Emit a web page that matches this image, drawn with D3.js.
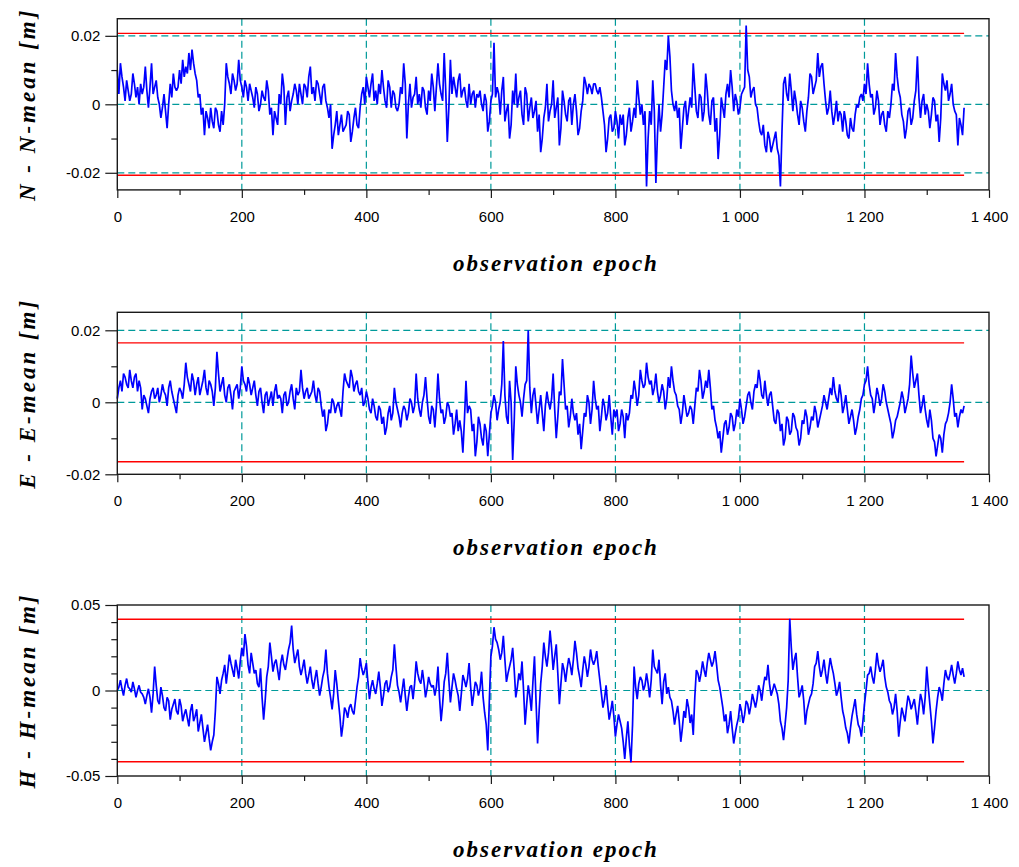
<!DOCTYPE html>
<html>
<head>
<meta charset="utf-8">
<script src="https://cdn.jsdelivr.net/npm/d3@7"></script>
<style>
  body { margin: 0; background: #fff; }
  svg { display: block; }
</style>
</head>
<body>
<svg id="chart" width="1019" height="867"></svg>
<script>
// residuals in millimetres: main samples every 5 epochs,
// "mid" samples read halfway between them (epoch + 2.5)
const epochStep = 5;

const nValues = [
  10,12,5,7,1,9,2,0,3,11,
  -1,12,5,2,-4,3,-7,6,9,4,
  10,13,11,15,16,9,2,-3,-9,-4,
  -1,-7,-2,-8,-6,12,6,9,4,13,
  5,7,1,4,-1,3,0,2,7,-3,
  -9,-4,3,9,-6,4,1,6,0,3,
  6,2,11,5,7,3,5,1,-4,-13,
  -6,-9,-3,-7,-2,-11,-4,-6,-1,5,
  8,2,9,4,6,10,1,7,-1,3,
  -2,5,12,-10,6,2,8,3,5,-1,
  4,9,-2,12,3,15,-11,13,8,2,
  9,4,1,6,3,-1,2,0,3,-8,
  1,18,5,-3,8,-2,-10,4,9,2,
  -3,5,-5,2,-2,-8,-14,-4,6,-2,
  7,-1,-12,4,-3,1,-6,3,-9,-2,
  8,3,5,6,4,5,-2,-14,-4,-8,
  -2,-10,-6,-12,-4,-8,-1,7,-3,-6,
  -24,-2,7,-23,0,-3,13,20,4,-2,
  -4,-13,-1,-6,2,12,-2,3,-5,9,
  -3,1,-8,-16,2,-4,6,10,-2,1,
  -1,4,23,8,4,0,-5,-9,-12,-8,
  -14,-10,-13,-24,6,3,9,-2,1,-6,
  -1,-8,2,8,5,15,11,6,-3,4,
  -6,1,-2,-8,-5,-10,-7,-3,-1,3,
  6,12,2,-3,4,-6,-2,-8,-4,6,
  15,4,-3,-10,-2,-6,1,14,-4,3,
  0,-7,2,-5,-11,9,4,1,6,-2,
  -12,-6,-1
];
const nMidValues = [
  3,8,1,4,3,6,5,6,5,4,
  5,3,7,0,-1,-2,0,2,5,5,
  6,8,9,10,12,7,3,-1,-2,-7,
  -5,-1,-6,-2,0,8,3,7,6,7,
  2,5,6,2,5,-2,4,1,4,-1,
  -2,-6,0,5,2,-2,3,4,6,0,
  5,8,3,1,6,0,6,-1,0,-9,
  -2,-6,-8,-6,-3,-8,-1,-7,3,0,
  5,6,1,0,3,5,-1,5,4,-1,
  0,3,6,0,-1,3,0,-1,4,-3,
  1,5,5,6,1,4,-1,3,5,7,
  2,5,-1,0,4,3,4,-2,1,-5,
  3,2,3,4,-5,0,-6,0,-1,4,
  -6,3,-1,-4,1,-3,-10,-1,-5,0,
  -4,2,-7,1,-5,2,0,-2,-7,1,
  6,6,3,6,3,2,-6,-10,-3,-7,
  -5,-3,-3,-9,-1,-5,-4,2,0,-2,
  -10,-6,-2,-9,-8,5,10,14,0,1,
  -1,-7,1,-2,-1,5,-4,2,-2,4,
  -6,2,-4,-9,-1,3,2,5,3,-3,
  3,5,10,2,5,-1,-8,-6,-14,-10,
  -12,-8,-15,-8,8,1,4,4,-3,1,
  -5,-2,9,3,7,8,12,1,-1,-2,
  -3,-5,-3,-2,-9,-4,-8,0,2,1,
  3,6,3,-1,1,-3,-6,-2,0,4,
  8,2,-5,-7,-1,-4,4,2,1,-3,
  -2,-3,1,-3,-4,6,7,3,0,-3,
  -4,-9
];

const eValues = [
  1,6,8,5,9,4,8,6,-2,1,
  -3,3,1,4,2,3,-1,6,1,-3,
  4,1,11,5,8,2,7,4,9,2,
  5,-1,14,3,7,0,5,-2,4,1,
  10,5,7,2,6,-1,4,-3,3,1,
  -1,5,2,-3,3,0,5,-2,2,9,
  1,4,2,6,0,3,-4,-8,-2,1,
  -3,0,-4,8,5,9,3,6,2,-1,
  3,-2,1,-4,-1,-6,-9,-3,-5,4,
  -2,-7,-1,-5,1,-3,8,-2,0,7,
  -4,-1,-7,8,-3,-6,0,-4,-9,-2,
  -5,-14,6,-1,-8,-15,-4,-10,-6,-15,
  -3,2,-5,0,17,-4,6,-16,10,2,
  -4,5,20,-3,4,-6,2,-8,3,-2,
  8,-10,3,12,-2,-7,1,-5,-9,-13,
  -3,2,-6,6,-2,-8,1,-5,2,-9,
  -4,-8,-2,-10,-5,2,6,-1,9,4,
  11,5,2,8,0,5,-2,7,10,3,
  -1,-6,2,-4,-1,-6,4,9,1,6,
  9,-2,-5,-10,-14,-6,-9,-3,-8,-2,
  1,-6,-1,3,-2,5,9,2,6,-1,
  3,-5,-2,-8,-12,-4,-9,-3,-7,-12,
  -5,-2,-9,-4,-1,-7,-3,2,-2,4,
  7,1,5,-3,2,-6,-2,-9,-4,1,
  5,10,2,-3,4,-1,5,0,-4,-10,
  -5,-2,3,-3,1,13,4,8,-3,2,
  -5,-2,-10,-15,-9,-14,-6,-3,5,-4,
  -7,-2,-1
];
const eMidValues = [
  4,3,7,4,6,7,3,4,2,-1,
  1,4,2,0,5,2,4,3,-1,2,
  3,5,7,3,6,5,2,6,4,6,
  3,4,8,5,2,4,2,3,5,4,
  6,3,5,4,2,3,0,2,-1,3,
  3,1,1,2,-1,3,1,4,3,4,
  3,1,3,2,4,-1,-2,-6,-3,0,
  -1,-2,3,6,4,7,5,3,4,0,
  1,-3,-1,-5,-2,-4,-7,-1,-3,0,
  -4,-3,-2,-3,0,-1,1,-4,2,1,
  -6,-2,-1,1,-2,-4,-1,-3,-6,-8,
  -8,-5,-3,-2,-6,-11,-6,-12,-8,-9,
  -1,0,-2,5,2,-6,0,-5,5,0,
  1,6,4,2,-1,-2,-3,-1,0,1,
  -2,-4,2,5,-1,-4,-3,-3,-6,-8,
  -4,0,-2,1,-1,-4,-1,-3,-4,-2,
  -2,-6,-4,-3,-3,1,3,2,6,5,
  7,6,4,3,2,3,1,4,6,2,
  -2,-3,-1,-3,-2,-1,3,6,3,4,
  4,-1,-7,-8,-10,-5,-7,-4,-6,-4,
  -2,-4,2,0,3,4,6,1,2,2,
  -1,-6,-3,-6,-10,-5,-8,-4,-8,-10,
  -6,-4,-7,-5,-3,-5,-1,0,1,2,
  3,0,2,-1,-2,-4,-5,-7,-2,2,
  6,5,1,0,2,1,3,-2,-6,-8,
  -4,0,1,-1,5,8,6,2,-1,-2,
  -7,-5,-11,-12,-10,-9,-5,0,1,-3,
  -4,-3
];

const hValues = [
  0,6,-3,7,1,5,-4,3,-2,-8,
  1,-13,14,-6,2,-10,-4,-17,-8,-12,
  -5,-18,-11,-21,-8,-15,-24,-14,-30,-20,
  -35,-26,8,-2,10,4,21,12,18,7,
  25,33,15,22,10,4,13,-17,8,28,
  11,18,6,21,12,24,38,16,24,9,
  18,4,14,1,12,-3,8,24,2,-11,
  12,-6,-27,-10,-16,-8,-14,2,19,9,
  16,-5,6,-2,11,-9,4,-1,8,27,
  3,-7,7,-12,2,-5,17,6,12,-4,
  8,2,-3,14,-18,5,22,-7,10,1,
  -12,9,2,16,-9,5,-3,11,-13,-35,
  20,37,28,18,32,5,14,25,-4,10,
  17,-20,3,-12,20,-31,4,28,14,35,
  12,27,-8,16,5,19,9,29,13,2,
  20,8,24,15,23,6,-10,3,-17,-6,
  -27,-14,-22,-40,-18,-42,14,-5,8,0,
  10,-4,24,12,18,-8,10,2,-6,-20,
  -9,-30,-12,-5,-19,-26,12,5,17,8,
  22,14,23,6,-4,-18,-25,-12,-31,-20,
  -8,-19,-6,-14,-2,-10,3,-6,8,15,
  -3,4,-2,-18,-29,-10,42,12,22,-4,
  3,-20,-8,-2,14,23,8,18,4,19,
  10,-3,5,-12,-22,-31,-15,-5,-20,-27,
  -8,9,14,4,22,11,18,2,-6,-14,
  -2,-27,-10,-18,-3,-11,-5,-20,-2,-14,
  14,-8,-31,-12,2,-6,12,6,15,4,
  17,9,8
];
const hMidValues = [
  2,1,3,2,-1,1,0,-1,-4,-3,
  -4,-2,3,-8,-3,-12,-6,-11,-5,-14,
  -9,-14,-16,-12,-18,-11,-19,-22,-25,-28,
  -30,-12,4,6,15,12,16,8,13,17,
  20,26,10,16,12,2,-4,-6,14,20,
  16,12,16,15,18,28,24,20,14,13,
  10,9,6,7,4,2,12,10,-4,-2,
  4,-15,-20,-12,-10,-12,-6,8,13,12,
  5,2,1,4,2,-3,6,2,12,14,
  -1,0,-3,-4,3,4,10,4,5,1,
  4,3,2,-4,-8,10,6,2,6,-3,
  -2,6,7,2,-2,3,1,-4,-20,-6,
  26,30,24,22,18,10,18,12,2,6,
  0,-8,-3,5,-6,-12,14,20,22,25,
  20,10,4,12,13,15,18,22,8,12,
  15,14,18,18,14,-2,-5,-8,-12,-15,
  -20,-18,-30,-28,-32,-20,2,4,6,3,
  4,6,14,10,3,5,-2,-4,-12,-14,
  -18,-22,-16,-10,-14,-4,10,10,12,16,
  18,17,15,2,-10,-14,-20,-22,-25,-16,
  -12,-14,-8,-9,-6,-5,0,2,6,4,
  0,1,-8,-22,-20,6,25,18,8,-1,
  -6,-12,-4,4,16,14,12,10,12,14,
  4,0,-4,-16,-25,-22,-10,-14,-22,-18,
  0,10,8,12,15,14,8,-1,-8,-10,
  -12,-18,-14,-10,-6,-8,-12,-10,-6,-4,
  2,-18,-22,-4,-1,4,8,10,9,10,
  12,13
];

// red bounds (mm)
const nLimit = 20.7;
const eLimit = 16.5;
const hLimit = 41.7;

const xMajorTicks = [0, 200, 400, 600, 800, 1000, 1200, 1400];
const xMinorTicks = [100, 300, 500, 700, 900, 1100, 1300];
const gridEpochs = [200, 400, 600, 800, 1000, 1200];

const nYTicks = [-20, 0, 20];
const nYMinor = [-10, 10];
const eYTicks = [-20, 0, 20];
const eYMinor = [-10, 10];
const hYTicks = [-50, 0, 50];
const hYMinor = [-40, -30, -20, -10, 10, 20, 30, 40];

const yLabels = ["N - N-mean [m]", "E - E-mean [m]", "H - H-mean [m]"];
const xLabel = "observation epoch";

const panels = [
  { values: nValues, mids: nMidValues, label: yLabels[0], limit: nLimit, domain: [-25, 25],
    ticks: nYTicks, minor: nYMinor, grid: [-20, 0, 20], top: 18.7, bottom: 189.9 },
  { values: eValues, mids: eMidValues, label: yLabels[1], limit: eLimit, domain: [-20, 25],
    ticks: eYTicks, minor: eYMinor, grid: [0, 20], top: 312.3, bottom: 474.3 },
  { values: hValues, mids: hMidValues, label: yLabels[2], limit: hLimit, domain: [-50, 50],
    ticks: hYTicks, minor: hYMinor, grid: [0], top: 605, bottom: 776 }
];

const svg = d3.select("#chart");
const left = 117.3, right = 989;
const tickFont = "'Liberation Sans', Arial, Helvetica, sans-serif";
const titleFont = "'Liberation Serif', 'Times New Roman', serif";
const teal = "#009a9a";

const x = d3.scaleLinear().domain([0, 1400]).range([left, right]);
const spaceFmt = d3.formatLocale({ decimal: ".", thousands: " ", grouping: [3], currency: ["", ""] }).format(",");
const yFmt = d => d === 0 ? "0" : (d / 1000).toFixed(2);

panels.forEach(p => {
  const y = d3.scaleLinear().domain(p.domain).range([p.bottom, p.top]);
  const g = svg.append("g");
  const lastEpoch = (p.values.length - 1) * epochStep;

  // merge main and mid samples into one series of [epoch, value]
  const series = [];
  p.values.forEach((v, i) => {
    series.push([i * epochStep, v]);
    if (i < p.mids.length) series.push([i * epochStep + epochStep / 2, p.mids[i]]);
  });

  // dashed teal grid
  g.selectAll(".hgrid").data(p.grid).join("line")
    .attr("x1", left).attr("x2", right)
    .attr("y1", d => y(d)).attr("y2", d => y(d))
    .attr("stroke", teal).attr("stroke-width", 1.2)
    .attr("stroke-dasharray", "7,4");
  g.selectAll(".vgrid").data(gridEpochs).join("line")
    .attr("x1", d => x(d)).attr("x2", d => x(d))
    .attr("y1", p.top).attr("y2", p.bottom)
    .attr("stroke", teal).attr("stroke-width", 1.2)
    .attr("stroke-dasharray", "7,4");

  // red bounds
  g.selectAll(".limit").data([p.limit, -p.limit]).join("line")
    .attr("x1", x(0)).attr("x2", x(lastEpoch))
    .attr("y1", d => y(d)).attr("y2", d => y(d))
    .attr("stroke", "#ff0000").attr("stroke-width", 1.4);

  // residual series
  const line = d3.line()
    .x(d => x(d[0]))
    .y(d => y(d[1]));
  g.append("path")
    .datum(series)
    .attr("d", line)
    .attr("fill", "none")
    .attr("stroke", "#0000ff")
    .attr("stroke-width", 1.7)
    .attr("stroke-linejoin", "bevel");

  // frame
  g.append("rect")
    .attr("x", left).attr("y", p.top)
    .attr("width", right - left).attr("height", p.bottom - p.top)
    .attr("fill", "none").attr("stroke", "#1a1a1a").attr("stroke-width", 1.4);

  // x axis
  const xa = g.append("g").attr("transform", `translate(0,${p.bottom})`)
    .call(d3.axisBottom(x).tickValues(xMajorTicks).tickSize(8).tickPadding(13).tickFormat(spaceFmt));
  const xm = g.append("g").attr("transform", `translate(0,${p.bottom})`)
    .call(d3.axisBottom(x).tickValues(xMinorTicks).tickSize(5).tickFormat(""));

  // y axis
  const ya = g.append("g").attr("transform", `translate(${left},0)`)
    .call(d3.axisLeft(y).tickValues(p.ticks).tickSize(12).tickPadding(5).tickFormat(yFmt));
  const ym = g.append("g").attr("transform", `translate(${left},0)`)
    .call(d3.axisLeft(y).tickValues(p.minor).tickSize(6).tickFormat(""));

  [xa, xm, ya, ym].forEach(a => {
    a.select(".domain").remove();
    a.selectAll(".tick line").attr("stroke", "#1a1a1a").attr("stroke-width", 1.2);
    a.selectAll("text")
      .attr("fill", "#000")
      .style("font-family", tickFont)
      .style("font-size", "15px");
  });

  // axis titles
  g.append("text")
    .attr("x", 556).attr("y", p.bottom + 81)
    .attr("text-anchor", "middle")
    .style("font-family", titleFont)
    .style("font-weight", "bold")
    .style("font-style", "italic")
    .style("font-size", "23px")
    .style("letter-spacing", "2px")
    .text(xLabel);

  g.append("text")
    .attr("transform", `translate(35,${(p.top + p.bottom) / 2}) rotate(-90)`)
    .attr("text-anchor", "middle")
    .style("font-family", titleFont)
    .style("font-weight", "bold")
    .style("font-style", "italic")
    .style("font-size", "23px")
    .style("letter-spacing", "3px")
    .text(p.label);
});
</script>
</body>
</html>
